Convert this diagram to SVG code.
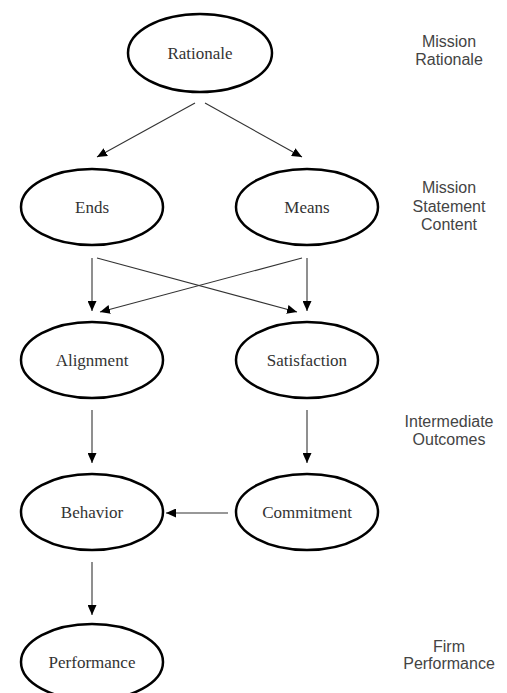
<svg xmlns="http://www.w3.org/2000/svg" width="507" height="693" viewBox="0 0 507 693">
<style>
.node ellipse{fill:#fff;stroke:#000;stroke-width:2.5}
.node text{font-family:"Liberation Serif","Times New Roman",serif;font-size:17px;fill:#333;text-anchor:middle;dominant-baseline:central}
.lvl{font-family:"Liberation Sans",Arial,sans-serif;font-size:16px;fill:#444;text-anchor:middle}
#edges line{stroke:#333;stroke-width:1.1;marker-end:url(#ah)}
</style>
<defs>
<marker id="ah" markerUnits="userSpaceOnUse" markerWidth="10" markerHeight="9" refX="10" refY="4.5" orient="auto">
<path d="M0,0 L10,4.5 L0,9 z" fill="#000"/>
</marker>
</defs>
<rect width="507" height="693" fill="#fff"/>
<g id="edges">
<line x1="195" y1="103" x2="97" y2="157"/>
<line x1="205" y1="103" x2="302" y2="157"/>
<line x1="92" y1="258" x2="92" y2="311"/>
<line x1="97" y1="258" x2="297" y2="312"/>
<line x1="302" y1="258" x2="100" y2="312"/>
<line x1="307" y1="258" x2="307" y2="311"/>
<line x1="92" y1="410" x2="92" y2="463"/>
<line x1="307" y1="410" x2="307" y2="463"/>
<line x1="228" y1="513" x2="166" y2="513"/>
<line x1="92" y1="562" x2="92" y2="615"/>
</g>
<g id="rationale" class="node"><ellipse cx="200" cy="53" rx="72" ry="39"/><text x="200" y="53">Rationale</text></g>
<g id="ends" class="node"><ellipse cx="92" cy="207" rx="71" ry="38"/><text x="92" y="207">Ends</text></g>
<g id="means" class="node"><ellipse cx="307" cy="207" rx="71" ry="38"/><text x="307" y="207">Means</text></g>
<g id="alignment" class="node"><ellipse cx="92" cy="360" rx="71" ry="38"/><text x="92" y="360">Alignment</text></g>
<g id="satisfaction" class="node"><ellipse cx="307" cy="360" rx="71" ry="38"/><text x="307" y="360">Satisfaction</text></g>
<g id="behavior" class="node"><ellipse cx="92" cy="512" rx="71" ry="38"/><text x="92" y="512">Behavior</text></g>
<g id="commitment" class="node"><ellipse cx="307" cy="512" rx="71" ry="38"/><text x="307" y="512">Commitment</text></g>
<g id="performance" class="node"><ellipse cx="92" cy="662" rx="71" ry="38"/><text x="92" y="662">Performance</text></g>
<g id="levels">
<text class="lvl" x="449" y="47">Mission</text>
<text class="lvl" x="449" y="65">Rationale</text>
<text class="lvl" x="449" y="193">Mission</text>
<text class="lvl" x="449" y="212">Statement</text>
<text class="lvl" x="449" y="230">Content</text>
<text class="lvl" x="449" y="427">Intermediate</text>
<text class="lvl" x="449" y="445">Outcomes</text>
<text class="lvl" x="449" y="652">Firm</text>
<text class="lvl" x="449" y="669">Performance</text>
</g>
</svg>
